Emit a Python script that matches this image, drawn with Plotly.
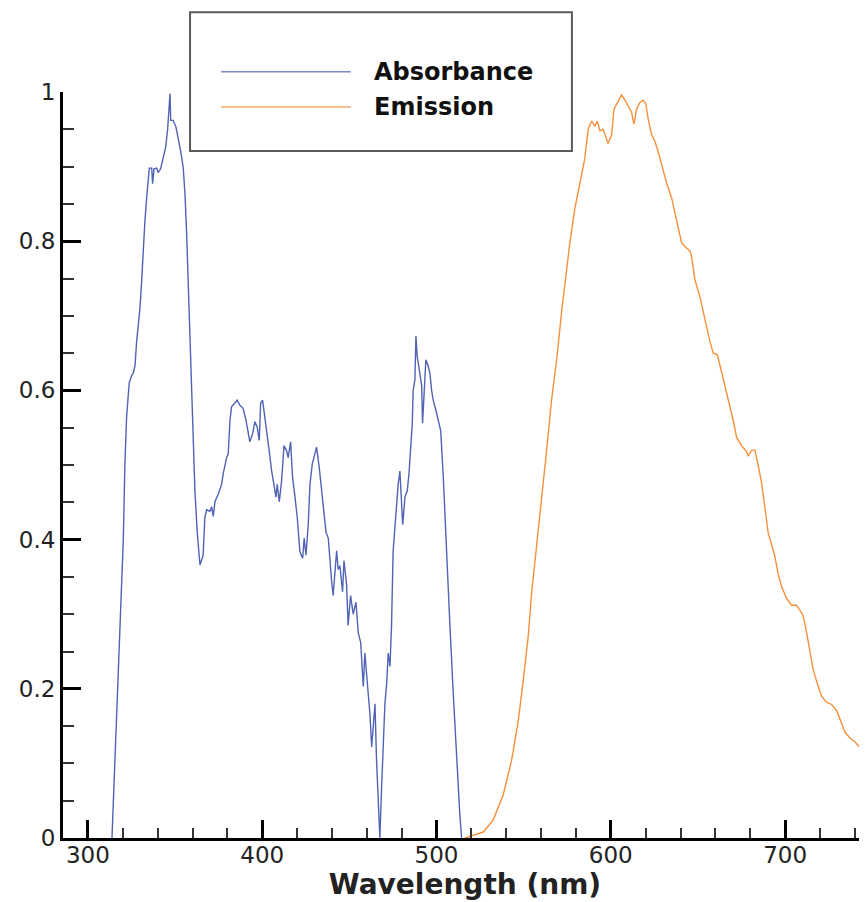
"""
吸收/发射光谱图 (Absorbance / Emission)
"""

import plotly.graph_objects as go

# ========== 数据 ==========
# 吸收光谱
ABS_WL = [
    313.8, 316.6, 319.3, 320.3, 321.2, 322.2, 323.7, 325.1, 326.0, 327.0,
    327.9, 329.8, 330.8, 331.7, 332.7, 333.7, 335.2, 336.6, 337.1, 337.9,
    339.4, 340.3, 341.7, 343.2, 344.6, 345.7, 346.5, 347.1, 347.5, 348.9,
    350.5, 351.8, 353.2, 354.7, 355.7, 356.6, 357.5, 358.5, 359.5, 360.4,
    361.4, 362.7, 364.3, 366.1, 367.1, 368.1, 370.0, 371.0, 371.9, 372.9,
    374.8, 376.7, 377.6, 379.6, 380.5, 381.5, 382.4, 384.3, 385.6, 387.2,
    389.0, 390.7, 392.0, 392.9, 394.5, 395.8, 397.1, 398.3, 399.1, 400.2,
    401.0, 402.5, 404.0, 405.4, 406.7, 407.9, 408.6, 409.8, 411.1, 412.5,
    414.0, 414.9, 416.3, 417.4, 418.8, 420.1, 421.6, 423.2, 424.1, 425.1,
    426.4, 427.4, 428.7, 430.2, 431.2, 432.7, 434.1, 435.4, 436.6, 437.9,
    438.8, 439.8, 440.7, 441.7, 442.7, 443.6, 444.6, 446.1, 446.9, 448.4,
    449.3, 450.7, 452.2, 453.8, 455.1, 456.5, 458.0, 458.9, 459.9, 460.8,
    461.8, 462.8, 463.7, 464.7, 465.6, 466.6, 467.5, 468.5, 469.4, 470.4,
    471.4, 472.3, 473.3, 474.2, 475.1, 476.1, 477.1, 478.0, 479.0, 479.6,
    480.6, 481.9, 483.2, 484.2, 485.1, 486.1, 486.6, 487.6, 488.2, 488.9,
    490.1, 491.5, 492.0, 492.8, 493.9, 495.2, 496.2, 497.2, 498.1, 499.7,
    501.0, 502.4, 503.8, 505.8, 507.7, 509.6, 511.5, 513.4, 514.4,
]
ABS_VAL = [
    0.0, 0.17, 0.34, 0.40, 0.50, 0.565, 0.61, 0.62, 0.623, 0.633,
    0.664, 0.709, 0.745, 0.79, 0.827, 0.858, 0.898, 0.898, 0.877, 0.897,
    0.898, 0.892, 0.897, 0.912, 0.926, 0.949, 0.971, 0.998, 0.962, 0.962,
    0.953, 0.939, 0.921, 0.898, 0.863, 0.813, 0.745, 0.655, 0.587, 0.519,
    0.465, 0.41, 0.366, 0.379, 0.43, 0.44, 0.438, 0.444, 0.431, 0.451,
    0.461, 0.474, 0.488, 0.51, 0.515, 0.56, 0.578, 0.583, 0.587, 0.58,
    0.576, 0.56, 0.542, 0.531, 0.542, 0.558, 0.551, 0.533, 0.583, 0.587,
    0.573, 0.542, 0.519, 0.492, 0.474, 0.457, 0.474, 0.451, 0.478, 0.526,
    0.519, 0.51, 0.531, 0.484, 0.457, 0.43, 0.384, 0.375, 0.402, 0.379,
    0.42, 0.474, 0.501, 0.515, 0.524, 0.497, 0.465, 0.438, 0.41, 0.402,
    0.37, 0.345, 0.325, 0.35, 0.385, 0.36, 0.365, 0.33, 0.372, 0.34,
    0.285, 0.325, 0.30, 0.316, 0.275, 0.262, 0.203, 0.248, 0.213, 0.194,
    0.167, 0.122, 0.149, 0.18, 0.104, 0.058, 0.0, 0.068, 0.131, 0.18,
    0.207, 0.248, 0.23, 0.285, 0.384, 0.42, 0.457, 0.474, 0.492, 0.457,
    0.42, 0.457, 0.465, 0.488, 0.519, 0.556, 0.6, 0.614, 0.673, 0.646,
    0.628, 0.606, 0.556, 0.6, 0.641, 0.633, 0.623, 0.6, 0.587, 0.573,
    0.56, 0.546, 0.488, 0.375, 0.285, 0.194, 0.104, 0.031, 0.0,
]

# 发射光谱
EM_WL = [
    516.3, 519.2, 526.8, 532.5, 538.3, 543.1, 546.9, 549.7, 552.6, 554.6,
    557.4, 560.3, 563.2, 566.0, 568.9, 571.8, 574.6, 576.5, 579.4, 582.3,
    585.1, 587.0, 589.0, 590.9, 592.2, 593.8, 595.6, 598.5, 600.5, 601.8,
    604.3, 606.2, 608.1, 610.0, 611.9, 613.3, 614.8, 616.7, 618.6, 620.1,
    621.5, 623.4, 625.3, 627.2, 629.2, 632.0, 634.9, 636.8, 638.7, 640.6,
    642.5, 645.4, 646.4, 648.3, 651.1, 652.7, 655.0, 656.9, 658.8, 661.1,
    662.6, 664.5, 666.4, 668.3, 670.2, 672.2, 675.0, 677.9, 678.8, 680.8,
    682.7, 684.6, 686.5, 688.4, 690.3, 692.3, 694.2, 696.0, 698.0, 700.9,
    703.7, 706.6, 708.5, 710.4, 712.3, 714.2, 716.1, 718.1, 720.9, 723.8,
    726.7, 729.6, 731.4, 734.3, 737.2, 740.1, 742.9, 746.9, 750.0,
]
EM_VAL = [
    0.0, 0.002, 0.008, 0.024, 0.058, 0.104, 0.157, 0.21, 0.27, 0.329,
    0.389, 0.454, 0.52, 0.587, 0.64, 0.706, 0.765, 0.798, 0.844, 0.878,
    0.911, 0.95, 0.961, 0.954, 0.961, 0.948, 0.95, 0.931, 0.943, 0.977,
    0.989, 0.996, 0.989, 0.98, 0.973, 0.957, 0.977, 0.986, 0.989, 0.984,
    0.963, 0.943, 0.934, 0.92, 0.901, 0.878, 0.858, 0.837, 0.82, 0.798,
    0.793, 0.787, 0.779, 0.748, 0.726, 0.709, 0.687, 0.665, 0.65, 0.648,
    0.634, 0.615, 0.598, 0.581, 0.56, 0.537, 0.526, 0.518, 0.512, 0.52,
    0.52, 0.499, 0.476, 0.443, 0.409, 0.393, 0.377, 0.354, 0.337, 0.321,
    0.312, 0.312, 0.304, 0.298, 0.276, 0.248, 0.226, 0.21, 0.19, 0.182,
    0.179, 0.171, 0.16, 0.142, 0.134, 0.129, 0.121, 0.107, 0.10,
]

SERIES_NAMES = ['Absorbance', 'Emission']

# 配色
COLOR_ABS = '#5163b5'
COLOR_EM = '#f5913c'
FONT = 'DejaVu Sans'


def create_plot():
    fig = go.Figure()

    fig.add_trace(go.Scatter(
        x=ABS_WL, y=ABS_VAL, mode='lines', name=SERIES_NAMES[0],
        line=dict(color=COLOR_ABS, width=1.4), showlegend=False
    ))
    fig.add_trace(go.Scatter(
        x=EM_WL, y=EM_VAL, mode='lines', name=SERIES_NAMES[1],
        line=dict(color=COLOR_EM, width=1.4), showlegend=False
    ))

    # 坐标轴
    fig.update_xaxes(
        range=[285.7, 747], dtick=100, tick0=0,
        ticks='inside', ticklen=18, tickwidth=3, tickcolor='black',
        minor=dict(dtick=20, ticks='inside', ticklen=10, tickwidth=1.5, tickcolor='#333'),
        showline=True, linewidth=3, linecolor='black',
        showgrid=False, zeroline=False,
        ticklabelstandoff=-6,
        tickfont=dict(family=FONT, size=23, color='#222'),
        title=dict(text='<b>Wavelength (nm)</b>', font=dict(family=FONT, size=28, color='#222'),
                   standoff=4)
    )
    fig.update_yaxes(
        range=[0, 1], dtick=0.2,
        ticks='inside', ticklen=18, tickwidth=3, tickcolor='black',
        minor=dict(dtick=0.05, ticks='inside', ticklen=11, tickwidth=1.5, tickcolor='#333'),
        showline=True, linewidth=3, linecolor='black',
        showgrid=False, zeroline=False,
        tickfont=dict(family=FONT, size=23, color='#222'),
    )

    # 图例框（手绘）
    fig.add_shape(type='rect', xref='paper', yref='paper',
                  x0=0.158, x1=0.633, y0=0.921, y1=1.107,
                  line=dict(color='#5a5a5a', width=2), fillcolor='white')
    legend_y = [1.027, 0.980]
    legend_colors = [COLOR_ABS, COLOR_EM]
    for name, yy, col in zip(SERIES_NAMES, legend_y, legend_colors):
        fig.add_shape(type='line', xref='paper', yref='paper',
                      x0=0.1965, x1=0.358, y0=yy, y1=yy,
                      line=dict(color=col, width=1.5), opacity=0.75)
        fig.add_annotation(xref='paper', yref='paper', x=0.384, y=yy,
                           xanchor='left', yanchor='middle', showarrow=False,
                           text=f'<b>{name}</b>',
                           font=dict(family=FONT, size=24, color='#111'))

    # 页面body有8px边距，整体尺寸缩小8px以免出现滚动条
    fig.update_layout(
        width=859, height=894,
        margin=dict(l=55, r=0, t=84, b=64),
        plot_bgcolor='white', paper_bgcolor='white',
        showlegend=False,
    )
    return fig


if __name__ == '__main__':
    fig = create_plot()
    fig.write_html('out.html')
